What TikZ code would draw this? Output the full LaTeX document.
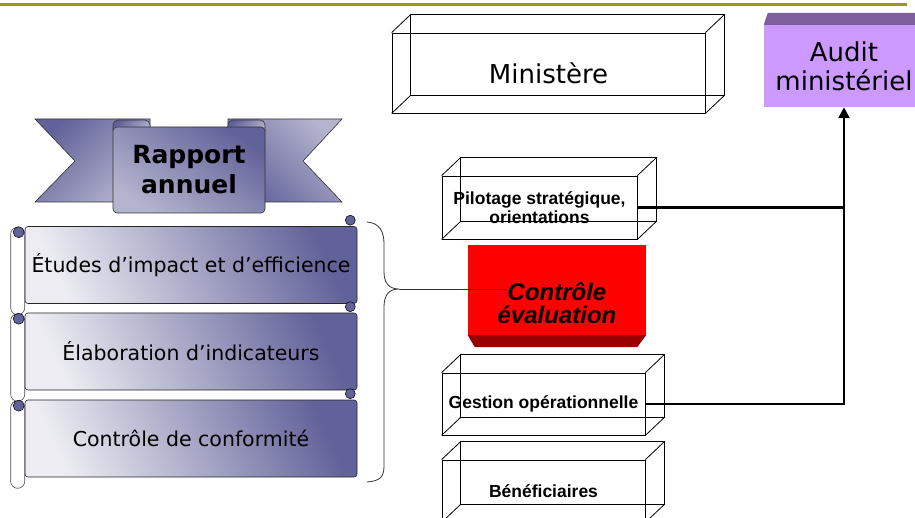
\documentclass[tikz,border=0pt]{standalone}
\usepackage{fontspec}
\setmainfont{DejaVu Sans}
\newfontfamily\arialfont{Liberation Sans}
\usetikzlibrary{arrows.meta,positioning}
\definecolor{RuleOlive}{HTML}{9C9A14}
\definecolor{ScrollDark}{HTML}{62629A}
\definecolor{ScrollLight}{HTML}{ECECF2}
\definecolor{RibbonLight}{HTML}{B4B4CE}
\definecolor{AuditLilac}{HTML}{CC99FF}
\definecolor{AuditTop}{HTML}{7D5F9C}
\definecolor{CtrlRed}{HTML}{FF0000}
\definecolor{CtrlShade}{HTML}{990000}

% back face and edges of a see-through box
\newcommand{\wireback}[1]{%
  \draw[wireline] ([shift={(19,-18)}]#1.north west) rectangle ([shift={(19,-18)}]#1.south east);
  \foreach \corner in {north west,north east,south west,south east}
    \draw[wireline] (#1.\corner) -- ([shift={(19,-18)}]#1.\corner);}

\begin{document}
\begin{tikzpicture}[x=1pt, y=-1pt,
  wirebox/.style={draw=black, line width=0.8pt, inner sep=0pt, align=center},
  wireline/.style={draw=black, line width=0.8pt},
  labelbold/.style={font=\arialfont\bfseries\fontsize{17.5}{19}\selectfont},
  scrollbody/.style={draw=black!85, line width=0.6pt, rounded corners=3pt,
    top color=ScrollDark, bottom color=ScrollLight, shading angle=-65,
    inner sep=0pt, minimum width=332pt, minimum height=77pt,
    font=\fontsize{20.5}{24}\selectfont},
  scrollroll/.style={draw=black!70, line width=0.6pt, fill=white, rounded corners=7pt},
  scrollcurl/.style={draw=black, line width=0.5pt, fill=ScrollDark},
  ribbontail/.style={draw=black!80, line width=0.6pt,
    top color=ScrollDark, bottom color=RibbonLight, shading angle=45},
  ribbonpanel/.style={draw=black!80, line width=0.6pt, rounded corners=4pt,
    top color=ScrollDark, bottom color=RibbonLight, shading angle=-35,
    minimum width=152pt, minimum height=86pt, align=center,
    font=\bfseries\fontsize{25}{30}\selectfont},
  bracestroke/.style={draw=black!80, line width=0.8pt},
  feedline/.style={draw=black, line width=2.4pt},
  auditbox/.style={fill=AuditLilac, minimum width=160pt, minimum height=82pt,
    align=center, font=\fontsize{26}{29}\selectfont},
  ctrlbox/.style={fill=CtrlRed, minimum width=178pt, minimum height=90pt},
  ctrlfont/.style={align=center, font=\arialfont\bfseries\itshape\fontsize{24}{23}\selectfont}
]
\fill[white] (0,0) rectangle (915,518);
\useasboundingbox (0,0) rectangle (915,518);
\draw[RuleOlive, line width=3pt] (0,5) -- (907,5);

% ribbon
\shade[ribbontail] (35,119) -- (150,119) -- (150,202) -- (35,202) -- (75,161) -- cycle;
\shade[ribbontail, shading angle=135] (342,119) -- (228,119) -- (228,202) -- (342,202) -- (303,161) -- cycle;
\draw[ribbontail, rounded corners=5pt] (113,120) rectangle (150,135);
\draw[ribbontail, rounded corners=5pt] (228,120) rectangle (265,135);
\node[ribbonpanel] (rapport) at (189,170) {Rapport\\annuel};

% scrolls
\foreach \name/\ypos/\words in {etudes/265/{Études d’impact et d’efficience},
    indic/351.5/{Élaboration d’indicateurs}, conform/438.5/{Contrôle de conformité}} {
  \node[scrollbody] (\name) at (191,\ypos) {\words};
  \draw[scrollroll] ([shift={(-14,1)}]\name.north west) rectangle ([shift={(0,11)}]\name.south west);
  \draw[scrollcurl] ([shift={(-6,6)}]\name.north west) circle[radius=5.5];
  \draw[scrollcurl] ([shift={(-7,-6)}]\name.north east) circle[radius=5];
}

% brace
\coordinate (bracetip) at (399,289);
\coordinate (ctrlpin) at (507,289);
\draw[bracestroke] (367,222) .. controls (380,223) and (384,232) .. (384,244) -- (384,272)
  .. controls (384,283) and (389,289) .. (bracetip)
  .. controls (389,289) and (384,295) .. (384,307) -- (384,466)
  .. controls (384,477) and (380,481) .. (367,482);

% boxes
\node[wirebox, minimum width=313pt, minimum height=80pt, font=\fontsize{26}{30}\selectfont] (ministere) at (548.5,73) {Ministère};
\wireback{ministere}
\node[wirebox, labelbold, minimum width=195pt, minimum height=63pt] (pilotage) at (539.5,207.5) {Pilotage stratégique,\\orientations};
\wireback{pilotage}
\node[ctrlbox] (ctrl) at (557,290) {};
\fill[CtrlShade] (ctrl.south west) -- (ctrl.south east) -- ([shift={(-9,12)}]ctrl.south east) -- ([shift={(7,12)}]ctrl.south west) -- cycle;
\node[ctrlfont] (ctrltext) at (557,303) {Contrôle\\évaluation};
\draw[bracestroke] (bracetip) -- (ctrlpin);
\node[wirebox, labelbold, minimum width=203pt, minimum height=62pt] (gestion) at (543.5,404) {Gestion opérationnelle};
\wireback{gestion}
\node[wirebox, labelbold, minimum width=203pt, minimum height=62pt] (benef) at (543.5,491) {Bénéficiaires};
\wireback{benef}

\node[auditbox] (audit) at (844,66) {Audit\\ministériel};
\fill[AuditTop] (audit.north west) -- ([shift={(4,-12)}]audit.north west) -- ([shift={(0,-12)}]audit.north east) -- (audit.north east) -- cycle;

\draw[feedline] (pilotage.east) -- (pilotage.east -| audit.south);
\draw[feedline, -{Triangle[length=11pt,width=11pt]}] (gestion.east) -| (audit.south);
\end{tikzpicture}
\end{document}
